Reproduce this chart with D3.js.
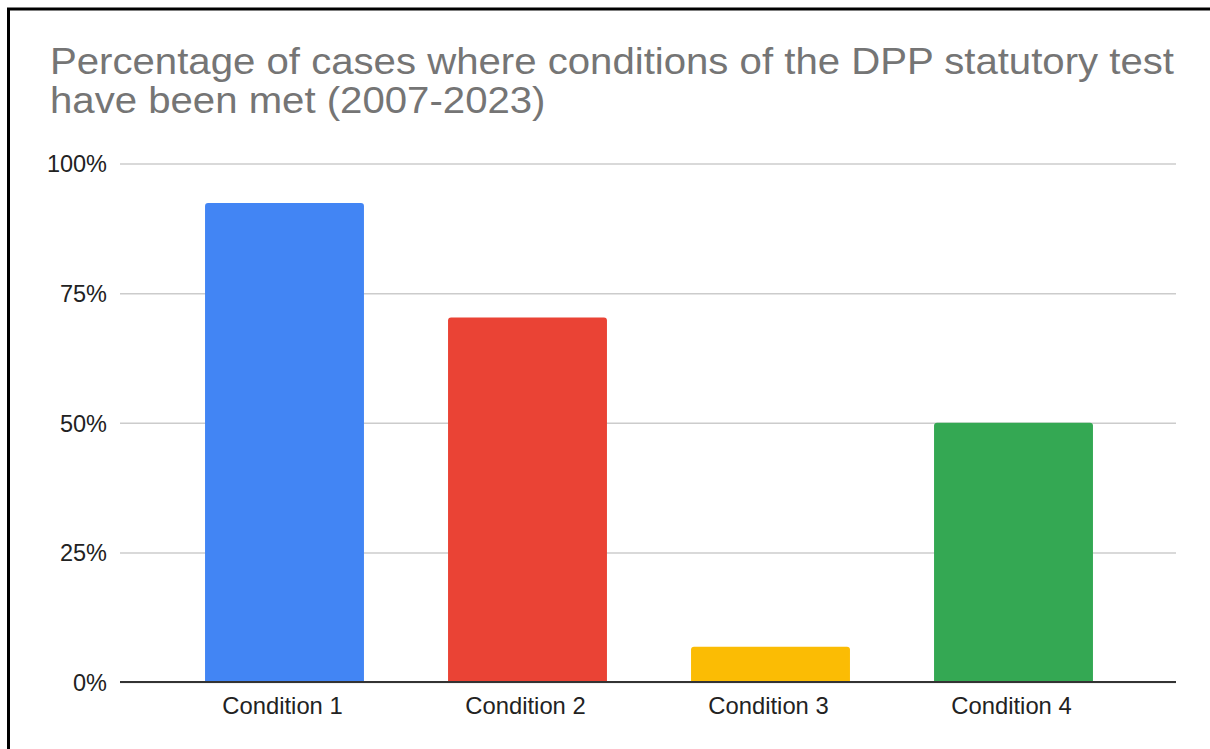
<!DOCTYPE html>
<html>
<head>
<meta charset="utf-8">
<script src="https://cdn.jsdelivr.net/npm/d3@7"></script>
<style>
  html, body { margin: 0; padding: 0; background: #fff; }
  svg { display: block; }
</style>
</head>
<body>
<svg id="chart" width="1210" height="749"></svg>
<script>
const titleLines = ["Percentage of cases where conditions of the DPP statutory test", "have been met (2007-2023)"];
const categories = ["Condition 1", "Condition 2", "Condition 3", "Condition 4"];
const values = [92.4, 70.3, 6.8, 50.0];
const colors = ["#4285f4", "#ea4335", "#fbbc04", "#34a853"];
const yTicks = [0, 25, 50, 75, 100];

const svg = d3.select("#chart");
const font = "Liberation Sans, Arial, Helvetica, sans-serif";

// frame
svg.append("rect").attr("x", 8.5).attr("y", 9).attr("width", 1230).attr("height", 780)
  .attr("fill", "#fff").attr("stroke", "#000").attr("stroke-width", 3);

// title (stretched horizontally to match the reference face's wider metrics)
const title = svg.append("text").attr("font-family", font).attr("font-size", 37).attr("fill", "#757575");
const spans = titleLines.map((t, i) =>
  title.append("tspan").attr("x", 50).attr("y", 73.5 + i * 39.5).text(t));
const targetFirst = 1124;
const k = targetFirst / spans[0].node().getComputedTextLength();
spans.forEach(s => {
  const w = s.node().getComputedTextLength();
  s.attr("textLength", w * k).attr("lengthAdjust", "spacingAndGlyphs");
});

const y = d3.scaleLinear().domain([0, 100]).range([682, 163.5]);
const x = d3.scaleBand().domain(categories).range([163, 1135]).paddingInner(0.346).paddingOuter(0.173);
const plotLeft = 120, plotRight = 1176;

// gridlines + y labels
const yAxis = d3.axisLeft(y).tickValues(yTicks).tickFormat(d => d + "%").tickSize(-(plotRight - plotLeft)).tickPadding(13);
const gy = svg.append("g").attr("transform", `translate(${plotLeft},0)`).call(yAxis);
gy.select(".domain").remove();
gy.selectAll(".tick line").attr("stroke", "#cccccc").attr("stroke-width", 1.5);
gy.selectAll(".tick text").attr("font-family", font).attr("font-size", 23.5).attr("fill", "#222")
  .attr("x", -13).attr("dy", "0.36em");

// bars with rounded top corners
const r = 3;
svg.append("g").selectAll("path").data(categories).join("path")
  .attr("fill", (d, i) => colors[i])
  .attr("d", (d, i) => {
    const x0 = x(d), w = x.bandwidth(), y0 = y(values[i]), yb = y(0);
    return `M${x0},${yb}V${y0 + r}Q${x0},${y0} ${x0 + r},${y0}H${x0 + w - r}Q${x0 + w},${y0} ${x0 + w},${y0 + r}V${yb}Z`;
  });

// baseline
svg.append("line").attr("x1", plotLeft).attr("x2", plotRight).attr("y1", y(0)).attr("y2", y(0))
  .attr("stroke", "#333").attr("stroke-width", 2);

// x labels
const xAxis = d3.axisBottom(x).tickSize(0).tickPadding(0);
const gx = svg.append("g").attr("transform", `translate(-2,${y(0)})`).call(xAxis);
gx.select(".domain").remove();
gx.selectAll(".tick text").attr("font-family", font).attr("font-size", 23.8).attr("fill", "#222")
  .attr("y", 31.5).attr("dy", 0);
</script>
</body>
</html>
